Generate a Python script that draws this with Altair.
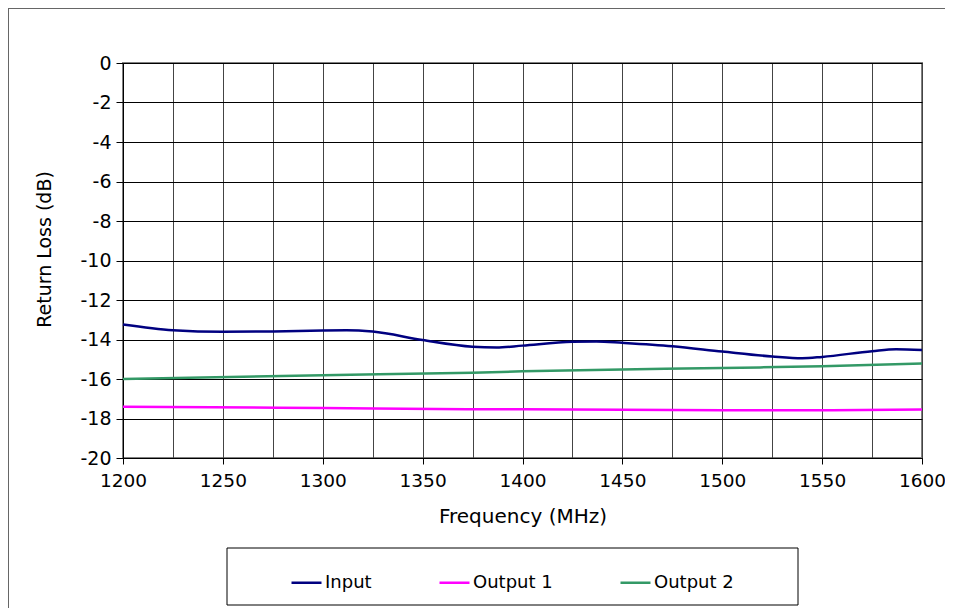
import altair as alt
import pandas as pd

freq_in = [1200, 1225, 1250, 1275, 1300, 1312, 1325, 1350, 1375, 1387, 1400, 1425, 1437, 1450, 1475, 1500, 1525, 1540, 1550, 1575, 1587, 1600]
input_db = [-13.24, -13.53, -13.61, -13.59, -13.54, -13.53, -13.60, -14.03, -14.37, -14.41, -14.31, -14.12, -14.10, -14.17, -14.34, -14.61, -14.86, -14.95, -14.88, -14.59, -14.49, -14.53]

freq_out = [1200, 1300, 1375, 1400, 1500, 1550, 1600]
out1_db = [-17.41, -17.47, -17.53, -17.53, -17.58, -17.58, -17.54]
out2_db = [-16.00, -15.81, -15.68, -15.61, -15.44, -15.36, -15.22]

series = ["Input", "Output 1", "Output 2"]
colors = ["#000080", "#FF00FF", "#339966"]

rows = []
for f, v in zip(freq_in, input_db):
    rows.append({"Frequency": f, "Return Loss": v, "Series": "Input"})
for f, v in zip(freq_out, out1_db):
    rows.append({"Frequency": f, "Return Loss": v, "Series": "Output 1"})
for f, v in zip(freq_out, out2_db):
    rows.append({"Frequency": f, "Return Loss": v, "Series": "Output 2"})
df = pd.DataFrame(rows)

FONT = "DejaVu Sans"
LFS = 18.5
TFS = 20

x_ticks = list(range(1200, 1601, 25))
y_ticks = list(range(-20, 1, 2))

lines = alt.Chart(df).mark_line(strokeWidth=2.5, interpolate="monotone").encode(
    x=alt.X("Frequency:Q",
            scale=alt.Scale(domain=[1200, 1600], nice=False),
            axis=alt.Axis(values=x_ticks, title="Frequency (MHz)",
                          labelExpr="datum.value % 50 == 0 ? toString(datum.value) : ''",
                          grid=True, gridColor="#444444", gridWidth=1,
                          tickOpacity={"condition": {"test": "datum.value % 50 == 0", "value": 1}, "value": 0},
                          tickSize=6, tickColor="black", domainColor="black",
                          labelPadding=7, titlePadding=17,
                          labelFontSize=LFS, titleFontSize=TFS,
                          labelFont=FONT, titleFont=FONT,
                          labelColor="black", titleColor="black",
                          titleFontWeight="normal", labelFlush=False)),
    y=alt.Y("Return Loss:Q",
            scale=alt.Scale(domain=[-20, 0], nice=False),
            axis=alt.Axis(values=y_ticks, title="Return Loss (dB)",
                          labelExpr="toString(datum.value)",
                          grid=True, gridColor="black", gridWidth=1,
                          tickSize=7, tickColor="black", domainColor="black",
                          labelPadding=5,
                          titleX=-79, titleY=186, titleAngle=270,
                          titleAlign="center", titleBaseline="middle",
                          labelFontSize=19, titleFontSize=19,
                          labelFont=FONT, titleFont=FONT,
                          labelColor="black", titleColor="black",
                          titleFontWeight="normal")),
    color=alt.Color("Series:N",
                    scale=alt.Scale(domain=series, range=colors),
                    legend=alt.Legend(orient="none", legendX=167, legendY=503,
                                      direction="horizontal", title=None,
                                      symbolType="stroke", symbolSize=900,
                                      symbolStrokeWidth=2.5, labelOffset=2,
                                      columnPadding=62, padding=0,
                                      labelFontSize=18, labelFont=FONT,
                                      labelColor="black")),
)

box_data = alt.Data(values=[{"k": 1}])
legend_box = alt.Chart(box_data).mark_rect(fill=None, stroke="black", strokeWidth=1).encode(
    x=alt.value(104), x2=alt.value(675), y=alt.value(485), y2=alt.value(542)
)
outer_left = alt.Chart(box_data).mark_rule(stroke="#666666", strokeWidth=1).encode(
    x=alt.value(-114.5), y=alt.value(-55), y2=alt.value(545)
)
outer_top = alt.Chart(box_data).mark_rule(stroke="#666666", strokeWidth=1).encode(
    x=alt.value(-115), x2=alt.value(822), y=alt.value(-54.5)
)

chart = alt.layer(lines, legend_box, outer_left, outer_top).properties(
    width=799, height=395,
    autosize=alt.AutoSizeParams(type="none"),
    padding={"left": 115, "top": 55, "right": 23, "bottom": 150},
    background="white",
).configure_view(stroke="#808080", strokeWidth=2)

chart.save("out.html", embed_options={"renderer": "svg", "actions": False})
